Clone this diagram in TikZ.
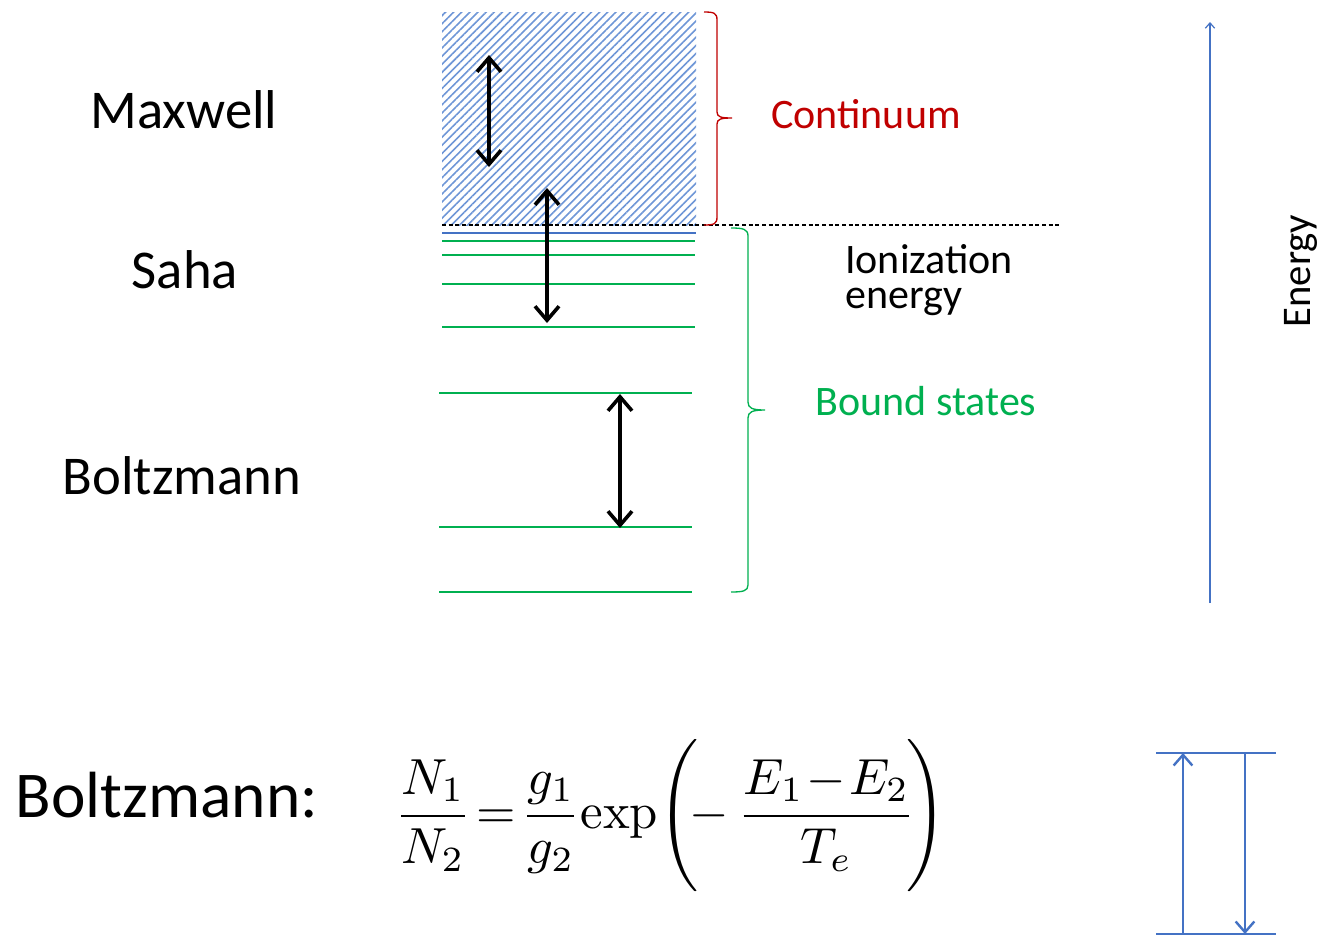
\documentclass[tikz,border=0pt]{standalone}
\usepackage[no-math]{fontspec}
\setmainfont{Carlito}
\usetikzlibrary{arrows.meta,patterns.meta}
\definecolor{lineblue}{RGB}{68,114,196}
\definecolor{hatchblue}{RGB}{110,150,215}
\definecolor{lvlgreen}{RGB}{0,176,80}
\definecolor{bracered}{RGB}{192,0,0}
\begin{document}
\begin{tikzpicture}[x=0.75pt,y=-0.75pt,
  big/.style={font=\fontsize{41pt}{49pt}\selectfont, inner sep=0pt},
  mid/.style={font=\fontsize{31.5pt}{38pt}\selectfont, inner sep=0pt},
  level/.style={lvlgreen, line width=1pt},
  trans/.style={line width=2.7pt, {Straight Barb[length=10.5pt,width=18pt]}-{Straight Barb[length=10.5pt,width=18pt]}},
  bluearr/.style={lineblue, line width=1.8pt}]
\useasboundingbox (0,0) rectangle (1343,936);
\fill[white] (0,0) rectangle (1343,936);
% continuum
\path[fill=hatchblue!8, pattern={Lines[angle=45,distance=4.3pt,line width=1.2pt]}, pattern color=hatchblue] (442,12) rectangle (696,225);
% ionization line
\coordinate (ionL) at (442,225);
\coordinate (ionR) at (1060,225);
\draw[black, line width=0.8pt, dash pattern=on 3pt off 2pt] (ionL) -- (ionR);
% levels
\draw[lineblue, line width=1pt] (442,233) -- (696,233);
\foreach \yy in {241,255,284,327} \draw[level] (442,\yy) -- (695,\yy);
\foreach \yy in {393,527,592} \draw[level] (439,\yy) -- (692,\yy);
% transitions
\coordinate (m1) at (489,55); \coordinate (m2) at (489,167);
\coordinate (s1) at (547,188); \coordinate (s2) at (547,323);
\coordinate (b1) at (620,394); \coordinate (b2) at (620,528);
\draw[trans] (m1) -- (m2);
\draw[trans] (s1) -- (s2);
\draw[trans] (b1) -- (b2);
% braces
\draw[bracered, line width=1pt] (704,12) .. controls (714,12) and (717,13) .. (717,20) -- (717,112) .. controls (717,117) and (721,118) .. (732,118) .. controls (721,118) and (717,119) .. (717,124) -- (717,217) .. controls (717,224) and (714,225) .. (704,225);
\draw[lvlgreen, line width=1pt] (731,228) .. controls (743,228) and (748,229) .. (748,236) -- (748,402) .. controls (748,408) and (752,410) .. (765,410) .. controls (752,410) and (748,412) .. (748,418) -- (748,585) .. controls (748,591) and (743,592) .. (731,592);
% labels
\node[big] (maxwell) at (184,110) {Maxwell};
\node[big] (saha) at (185,270) {Saha};
\node[big] (boltz) at (182,476) {Boltzmann};
\node[mid, text=bracered] (cont) at (866,114) {Continuum};
\node[mid, text=lvlgreen] (bound) at (926,401) {Bound states};
\node[mid, anchor=base west, align=left, font=\fontsize{31.5pt}{26pt}\selectfont] (ion) at (845,308) {Ionization\\energy};
% energy axis
\coordinate (eb) at (1210,603); \coordinate (et) at (1210,22);
\draw[lineblue, line width=0.9pt, -{Straight Barb[length=4pt,width=7pt]}] (eb) -- (et);
\node[mid, rotate=90, font=\fontsize{30.5pt}{36pt}\selectfont] (energy) at (1301,271) {Energy};
% bottom formula
\node[inner sep=0pt, font=\fontsize{49pt}{58pt}\selectfont] (boltz2) at (167,795) {Boltzmann:};
\node[inner sep=0pt] (formula) at (671,816) {\resizebox{414pt}{!}{$\displaystyle \frac{N_1}{N_2}\mathrel{\!=\!}\frac{g_1}{g_2}\mathrm{exp}\!\left(\rule[-1.2em]{0pt}{2.6em}\!{-}\,\frac{E_1\mathbin{\!-\!}E_2}{T_e}\!\right)$}};
% bottom right two-level diagram
\coordinate (tl) at (1156,753); \coordinate (tr) at (1276,753);
\coordinate (bl) at (1156,934); \coordinate (br) at (1276,934);
\draw[lineblue, line width=1.1pt] (tl) -- (tr);
\draw[lineblue, line width=1.1pt] (bl) -- (br);
\coordinate (u1) at (1183,934); \coordinate (u2) at (1183,753);
\coordinate (d1) at (1245,753); \coordinate (d2) at (1245,934);
\draw[bluearr, -{Straight Barb[length=8pt,width=14pt]}] (u1) -- (u2);
\draw[bluearr, -{Straight Barb[length=8pt,width=14pt]}] (d1) -- (d2);
\end{tikzpicture}
\end{document}
